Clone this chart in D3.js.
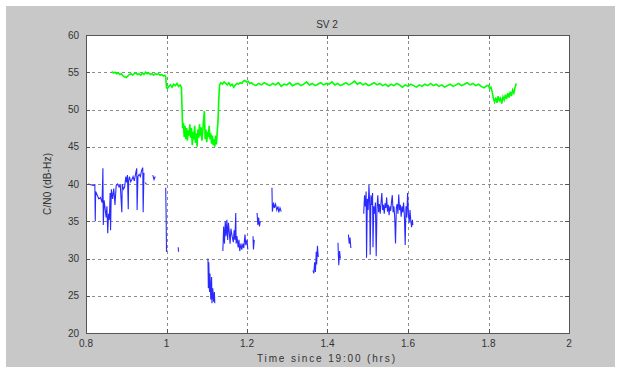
<!DOCTYPE html>
<html>
<head>
<meta charset="utf-8">
<script src="https://cdn.jsdelivr.net/npm/d3@7"></script>
<style>
  html, body { margin: 0; padding: 0; background: #fff; }
  svg text { font-family: "Liberation Sans", Arial, sans-serif; fill: #333; }
</style>
</head>
<body>
<script>
// axis ticks
const xTicks = [0.8, 1, 1.2, 1.4, 1.6, 1.8, 2];
const yTicks = [20, 25, 30, 35, 40, 45, 50, 55, 60];

// green series [time (hrs), C/N0]
const greenData = [
  [0.864,55.1],[0.868,54.9],[0.872,55.0],[0.876,54.8],[0.880,54.9],[0.884,54.7],[0.888,54.8],[0.892,54.5],
  [0.896,54.4],[0.900,54.3],[0.904,54.5],[0.908,54.7],[0.912,54.8],[0.916,54.6],[0.920,54.8],[0.924,54.9],
  [0.928,54.7],[0.932,54.8],[0.936,54.6],[0.940,54.9],[0.944,54.7],[0.948,55.0],[0.952,54.8],[0.956,54.9],
  [0.960,54.7],[0.964,54.8],[0.968,54.6],[0.972,54.8],[0.976,54.7],[0.980,54.8],[0.984,54.6],[0.988,54.7],
  [0.992,54.5],[0.996,54.6],[0.998,54.4],[1.000,53.0],[1.002,52.8],[1.006,53.1],[1.010,53.3],[1.014,53.0],
  [1.018,53.4],[1.022,53.2],[1.026,53.5],[1.030,53.1],[1.034,53.3],[1.037,53.0],[1.039,49.5],[1.040,47.5],
  [1.042,48.2],[1.044,46.3],[1.046,47.8],[1.048,46.0],[1.050,47.5],[1.052,45.8],[1.054,47.2],[1.056,46.5],
  [1.058,48.0],[1.060,46.2],[1.062,47.5],[1.064,45.2],[1.066,47.0],[1.068,46.0],[1.070,47.8],[1.072,45.5],
  [1.074,46.8],[1.076,45.0],[1.078,47.3],[1.080,46.2],[1.082,48.0],[1.084,46.5],[1.086,47.6],[1.088,45.8],
  [1.090,47.0],[1.092,48.5],[1.094,49.8],[1.096,46.0],[1.098,47.3],[1.100,45.6],[1.102,47.0],[1.104,46.3],
  [1.106,47.8],[1.108,46.0],[1.110,46.8],[1.112,45.4],[1.114,46.5],[1.116,45.2],[1.118,46.0],[1.120,45.0],
  [1.122,46.5],[1.124,45.3],[1.126,47.0],[1.128,48.5],[1.130,51.5],[1.132,53.3],[1.135,53.6],[1.139,53.4],
  [1.143,53.7],[1.147,53.5],[1.151,53.3],[1.155,53.6],[1.159,53.2],[1.163,53.4],[1.167,53.0],[1.171,53.3],
  [1.175,53.5],[1.179,53.4],[1.183,53.6],[1.187,53.5],[1.191,53.8],[1.195,53.9],[1.199,53.7],[1.203,53.8],
  [1.207,53.5],[1.211,53.6],[1.215,53.4],[1.222,53.2],[1.229,53.5],[1.236,53.3],[1.243,53.6],[1.250,53.4],
  [1.257,53.2],[1.264,53.5],[1.271,53.3],[1.278,53.6],[1.285,53.1],[1.292,53.4],[1.299,53.3],[1.306,53.6],
  [1.313,53.2],[1.320,53.4],[1.327,53.5],[1.334,53.2],[1.341,53.4],[1.348,53.7],[1.355,53.3],[1.362,53.5],
  [1.369,53.2],[1.376,53.4],[1.383,53.6],[1.390,53.3],[1.397,53.5],[1.404,53.4],[1.411,53.7],[1.418,53.3],
  [1.425,53.5],[1.432,53.2],[1.439,53.4],[1.446,53.6],[1.453,53.3],[1.460,53.5],[1.467,53.8],[1.474,53.4],
  [1.481,53.6],[1.488,53.3],[1.495,53.5],[1.502,53.2],[1.509,53.4],[1.516,53.6],[1.523,53.3],[1.530,53.5],
  [1.537,53.2],[1.544,53.4],[1.551,53.1],[1.558,53.4],[1.565,53.2],[1.572,53.5],[1.579,53.3],[1.586,53.0],
  [1.593,53.3],[1.600,53.1],[1.607,53.4],[1.614,53.2],[1.621,53.0],[1.628,53.3],[1.635,53.1],[1.642,53.4],
  [1.649,53.2],[1.656,53.5],[1.663,53.2],[1.670,53.4],[1.677,53.1],[1.684,53.3],[1.691,53.0],[1.698,53.2],
  [1.705,53.4],[1.712,53.1],[1.719,53.3],[1.726,53.5],[1.733,53.2],[1.740,53.4],[1.747,53.6],[1.754,53.3],
  [1.761,53.5],[1.768,53.2],[1.775,53.4],[1.782,53.1],[1.789,52.9],[1.796,53.2],[1.800,53.2],[1.803,52.8],
  [1.806,53.0],[1.809,52.4],[1.812,51.5],[1.815,51.0],[1.818,51.6],[1.821,50.9],[1.824,51.8],[1.827,51.2],
  [1.830,51.5],[1.833,50.8],[1.836,51.7],[1.839,51.3],[1.842,52.0],[1.845,51.4],[1.848,52.2],[1.851,51.6],
  [1.854,52.4],[1.857,51.8],[1.860,52.6],[1.863,52.2],[1.866,53.0],[1.869,53.5]
];

// blue series, null = gap in the track
const blueData = [
  [0.805,40.0],[0.812,39.9],[0.818,39.8],[0.822,39.9],[0.823,35.0],[0.824,39.0],[0.828,38.5],[0.832,38.0],
  [0.836,38.2],[0.840,37.5],[0.842,42.1],[0.843,34.5],[0.845,37.8],[0.848,36.5],[0.850,35.5],[0.852,37.0],
  [0.854,33.4],[0.856,36.0],[0.858,35.2],[0.860,38.8],[0.861,33.8],[0.863,39.3],[0.866,38.0],[0.869,39.4],
  [0.872,37.2],[0.875,39.8],[0.878,40.0],[0.882,39.6],[0.885,40.0],[0.889,36.2],[0.890,40.0],[0.893,39.3],
  [0.896,39.6],[0.899,41.0],[0.901,40.2],[0.903,41.2],[0.905,36.6],[0.906,40.5],[0.908,41.0],[0.911,40.3],
  [0.914,40.6],[0.917,41.0],[0.920,40.4],[0.924,41.6],[0.926,42.1],[0.927,36.5],[0.929,41.0],[0.932,41.3],
  [0.935,41.0],[0.938,41.8],[0.941,42.2],[0.942,36.2],[0.944,41.5],
  null,
  [0.947,40.2],[0.950,40.0],
  null,
  [0.966,41.2],[0.969,40.6],[0.972,41.0],
  null,
  [0.998,39.5],[0.999,36.0],[1.000,30.9],[1.001,31.2],
  null,
  [1.029,31.5],[1.030,30.9],
  null,
  [1.103,30.0],[1.104,26.0],[1.105,29.5],[1.107,25.5],[1.108,28.0],[1.110,24.5],[1.112,27.5],[1.113,24.0],
  [1.115,26.0],[1.117,24.2],[1.119,25.5],[1.120,24.0],
  null,
  [1.140,31.0],[1.142,34.3],[1.144,32.0],[1.146,35.0],[1.148,33.0],[1.150,35.2],[1.152,32.5],[1.154,34.8],
  [1.156,33.5],[1.158,32.0],[1.160,34.0],[1.163,33.0],[1.166,32.2],[1.168,33.8],[1.170,32.5],[1.172,36.1],
  [1.173,32.0],[1.175,33.0],[1.178,31.5],[1.180,32.5],[1.182,31.0],[1.185,32.0],[1.187,31.2],[1.190,32.0],
  [1.192,31.4],[1.195,33.2],[1.197,31.8],[1.200,32.5],[1.202,31.2],
  null,
  [1.215,33.0],[1.216,31.2],[1.218,32.5],
  null,
  [1.225,36.1],[1.227,34.5],[1.229,35.5],[1.231,34.3],[1.233,35.0],
  null,
  [1.262,39.5],[1.263,36.3],[1.266,37.5],[1.268,36.8],[1.271,37.3],[1.274,36.5],[1.277,37.0],[1.279,36.2],
  [1.282,36.8],[1.285,36.3],
  null,
  [1.364,28.4],[1.366,28.0],[1.368,29.5],[1.370,28.2],[1.372,30.9],[1.373,29.2],[1.375,31.7],[1.377,30.2],
  null,
  [1.426,32.1],[1.428,29.1],[1.430,31.0],[1.432,30.0],
  null,
  [1.452,33.2],[1.454,32.0],[1.456,32.8],[1.458,31.4],
  null,
  [1.490,36.0],[1.492,38.5],[1.494,37.0],[1.496,39.0],[1.497,30.1],[1.499,38.0],[1.501,36.5],[1.503,39.9],
  [1.505,37.0],[1.506,30.5],[1.508,38.5],[1.510,37.2],[1.512,38.8],[1.513,31.5],[1.515,37.0],[1.517,36.0],
  [1.519,37.5],[1.521,30.3],[1.523,36.8],[1.525,38.5],[1.527,36.2],[1.529,37.3],[1.531,36.0],[1.533,37.5],
  [1.535,38.8],[1.537,36.5],[1.539,37.2],[1.541,36.0],[1.543,37.4],[1.545,36.8],[1.547,38.2],[1.549,36.3],
  [1.551,37.2],[1.553,35.8],[1.555,37.0],[1.557,36.4],[1.559,37.6],[1.561,38.5],[1.563,36.2],[1.565,37.0],
  [1.567,35.5],[1.569,32.0],[1.571,36.8],[1.573,37.3],[1.575,36.0],[1.577,38.6],[1.579,36.5],[1.581,37.2],
  [1.583,35.6],[1.585,37.0],[1.587,36.2],[1.589,37.5],[1.591,35.8],[1.593,31.8],[1.595,37.0],[1.597,35.5],
  [1.599,38.8],[1.601,36.0],[1.603,34.8],[1.605,36.5],[1.607,35.0],[1.609,34.2],[1.611,35.2],[1.612,34.5]
];

const W = 621, H = 373;
const svg = d3.select('body').append('svg')
    .attr('width', W)
    .attr('height', H);

// figure background
svg.append('rect')
    .attr('x', 6).attr('y', 6)
    .attr('width', 609).attr('height', 361)
    .attr('fill', '#c8c8c8');

const x = d3.scaleLinear().domain([0.8, 2]).range([86, 569]);
const y = d3.scaleLinear().domain([20, 60]).range([333, 35]);

// plot area
svg.append('rect')
    .attr('x', x(0.8)).attr('y', y(60))
    .attr('width', x(2) - x(0.8)).attr('height', y(20) - y(60))
    .attr('fill', '#fff');

// grid
const grid = svg.append('g')
    .attr('stroke', '#8c8c8c')
    .attr('stroke-dasharray', '3,3')
    .attr('stroke-width', 1);
grid.selectAll('line.gx')
    .data(xTicks.slice(1, -1))
    .enter().append('line')
    .attr('x1', d => Math.round(x(d)) + 0.5).attr('x2', d => Math.round(x(d)) + 0.5)
    .attr('y1', y(60)).attr('y2', y(20));
grid.selectAll('line.gy')
    .data(yTicks.slice(1, -1))
    .enter().append('line')
    .attr('y1', d => Math.round(y(d)) + 0.5).attr('y2', d => Math.round(y(d)) + 0.5)
    .attr('x1', x(0.8)).attr('x2', x(2));

// data lines
const line = d3.line()
    .defined(d => d !== null)
    .x(d => x(d[0]))
    .y(d => y(d[1]));

svg.append('path')
    .datum(greenData)
    .attr('d', line)
    .attr('fill', 'none')
    .attr('stroke', '#00ff00')
    .attr('stroke-width', 1.6);

svg.append('path')
    .datum(blueData)
    .attr('d', line)
    .attr('fill', 'none')
    .attr('stroke', '#2a2aff')
    .attr('stroke-width', 1.1);

// axes, matlab style: ticks inside on all four sides
const tk = 4;
const axisG = svg.append('g').attr('stroke', '#555').attr('stroke-width', 1);
axisG.append('rect')
    .attr('x', x(0.8) + 0.5).attr('y', y(60) + 0.5)
    .attr('width', x(2) - x(0.8)).attr('height', y(20) - y(60))
    .attr('fill', 'none');

axisG.selectAll('line.tb')
    .data(xTicks)
    .enter().append('line')
    .attr('x1', d => Math.round(x(d)) + 0.5).attr('x2', d => Math.round(x(d)) + 0.5)
    .attr('y1', y(20)).attr('y2', y(20) - tk);
axisG.selectAll('line.tt')
    .data(xTicks)
    .enter().append('line')
    .attr('x1', d => Math.round(x(d)) + 0.5).attr('x2', d => Math.round(x(d)) + 0.5)
    .attr('y1', y(60)).attr('y2', y(60) + tk);
axisG.selectAll('line.tl')
    .data(yTicks)
    .enter().append('line')
    .attr('y1', d => Math.round(y(d)) + 0.5).attr('y2', d => Math.round(y(d)) + 0.5)
    .attr('x1', x(0.8)).attr('x2', x(0.8) + tk);
axisG.selectAll('line.tr')
    .data(yTicks)
    .enter().append('line')
    .attr('y1', d => Math.round(y(d)) + 0.5).attr('y2', d => Math.round(y(d)) + 0.5)
    .attr('x1', x(2)).attr('x2', x(2) - tk);

// tick labels
svg.append('g').selectAll('text')
    .data(xTicks)
    .enter().append('text')
    .attr('x', d => x(d))
    .attr('y', 347)
    .attr('text-anchor', 'middle')
    .attr('font-size', 10)
    .text(d => d3.format('~g')(d));

svg.append('g').selectAll('text')
    .data(yTicks)
    .enter().append('text')
    .attr('x', 79)
    .attr('y', d => y(d) + 3.5)
    .attr('text-anchor', 'end')
    .attr('font-size', 10)
    .text(d => d);

// titles
svg.append('text')
    .attr('x', 327).attr('y', 28)
    .attr('text-anchor', 'middle')
    .attr('font-size', 10)
    .text('SV 2');

svg.append('text')
    .attr('x', 326).attr('y', 362)
    .attr('text-anchor', 'middle')
    .attr('font-size', 10)
    .attr('textLength', 138)
    .text('Time since 19:00 (hrs)');

svg.append('text')
    .attr('transform', 'translate(51,184) rotate(-90)')
    .attr('text-anchor', 'middle')
    .attr('font-size', 10)
    .attr('textLength', 62)
    .text('C/N0 (dB-Hz)');
</script>
</body>
</html>
